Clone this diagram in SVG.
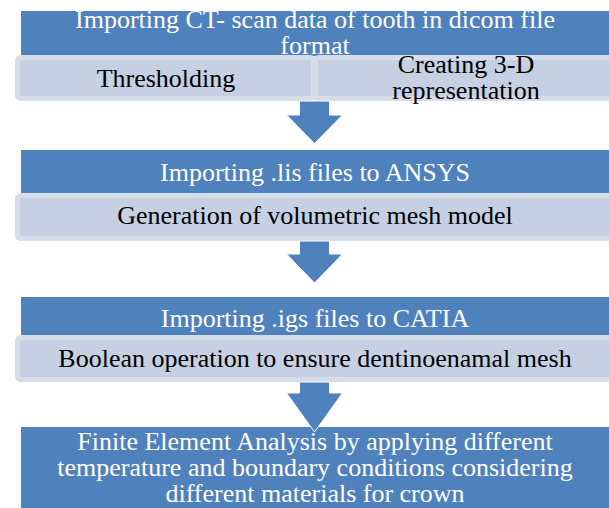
<svg xmlns="http://www.w3.org/2000/svg" width="609" height="508" viewBox="0 0 609 508" font-family="Liberation Serif, Times New Roman, serif" font-size="26">
<style>
.hd{fill:#4f81bd}
.sub{fill:#c5d0e3;stroke:#d6dde9;stroke-width:5}
.wt{fill:#fff;text-anchor:middle}
.bt{fill:#000;text-anchor:middle}
.ar{fill:#4f81bd;stroke:#fff;stroke-width:1}
</style>
<rect width="609" height="508" fill="#fff"/>
<g id="n1">
<rect class="hd" x="21" y="11" width="600" height="45"/>
<text class="wt" x="315" y="28">Importing CT- scan data of tooth in dicom file</text>
<text class="wt" x="315" y="54">format</text>
</g>
<g id="n1a">
<rect class="sub" x="17.5" y="57.5" width="296" height="41" rx="3"/>
<text class="bt" x="166" y="87">Thresholding</text>
</g>
<g id="n1b">
<rect class="sub" x="315.5" y="57.5" width="300" height="41" rx="3"/>
<text class="bt" x="466" y="73">Creating 3-D</text>
<text class="bt" x="466" y="99">representation</text>
</g>
<g id="n2">
<rect class="hd" x="21" y="150" width="600" height="44"/>
<text class="wt" x="315" y="181">Importing .lis files to ANSYS</text>
</g>
<g id="n2a">
<rect class="sub" x="17.5" y="195.5" width="600" height="43" rx="3"/>
<text class="bt" x="315" y="224">Generation of volumetric mesh model</text>
</g>
<g id="n3">
<rect class="hd" x="21" y="297" width="600" height="39"/>
<text class="wt" x="315" y="327">Importing .igs files to CATIA</text>
</g>
<g id="n3a">
<rect class="sub" x="17.5" y="337.5" width="600" height="42" rx="3"/>
<text class="bt" x="315" y="367">Boolean operation to ensure dentinoenamal mesh</text>
</g>
<g id="n4">
<rect class="hd" x="21" y="427" width="600" height="90"/>
<text class="wt" x="315" y="450">Finite Element Analysis by applying different</text>
<text class="wt" x="315" y="476">temperature and boundary conditions considering</text>
<text class="wt" x="315" y="502">different materials for crown</text>
</g>
<g id="connectors">
<path class="ar" d="M299.5,101 H329.5 V115 H342.5 L314.5,143.5 L286.5,115 H299.5 Z"/>
<path class="ar" d="M299.5,241 H329.5 V254 H342.5 L314.5,283 L286.5,254 H299.5 Z"/>
<path class="ar" d="M299.5,382 H329.5 V393 H342.5 L314.5,432 L286.5,393 H299.5 Z"/>
</g>
</svg>
